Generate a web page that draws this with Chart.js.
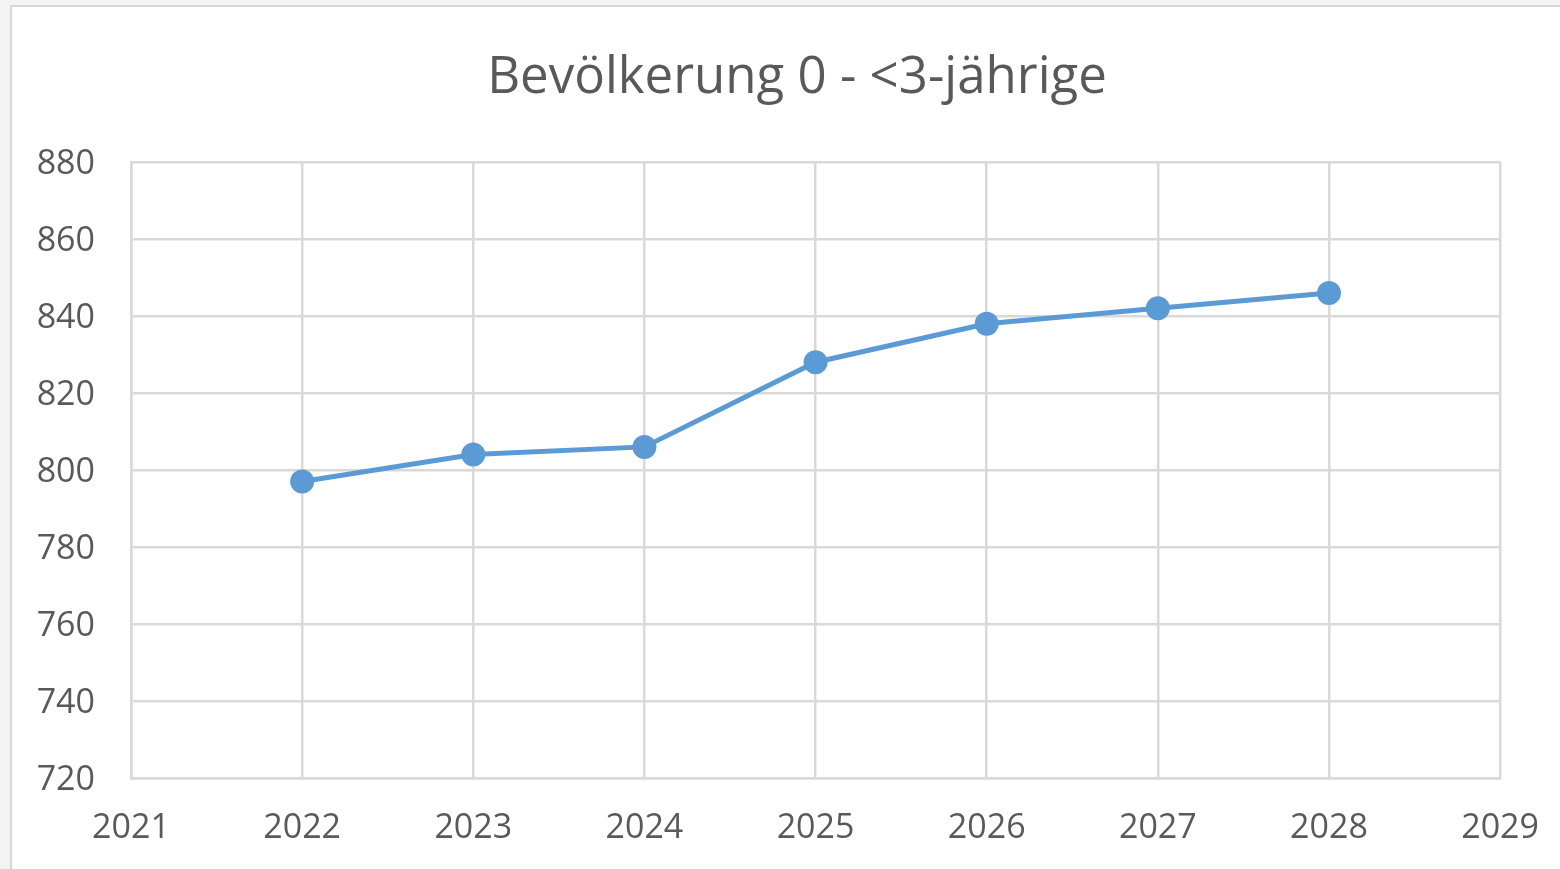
<!DOCTYPE html>
<html>
<head>
<meta charset="utf-8">
<script src="https://cdn.jsdelivr.net/npm/chart.js@4/dist/chart.umd.min.js"></script>
<style>
  html, body { margin: 0; padding: 0; background: #f3f3f3; width: 1560px; height: 869px; overflow: hidden; }
  #frame { position: absolute; left: 10px; top: 5px; width: 1600px; height: 900px; background: #ffffff; border: 2px solid #d6d6d6; box-sizing: border-box; }
  #wrap { position: absolute; left: 0; top: 0; width: 1560px; height: 869px; overflow: hidden; }
  canvas { display: block; }
</style>
</head>
<body>
<div id="frame"></div>
<div id="wrap"><canvas id="c" width="1569" height="869"></canvas></div>
<script>
const chartTitle = 'Bevölkerung 0 - <3-jährige';
const years = [2022, 2023, 2024, 2025, 2026, 2027, 2028];
const population = [797, 804, 806, 828, 838, 842, 846];
const xTickRange = [2021, 2029];
const yTickRange = [720, 880];
const yStep = 20;

const points = years.map((yr, i) => ({ x: yr, y: population[i] }));
const gridColor = '#d9d9d9';
const textColor = '#595959';
const font = "'Open Sans', 'Liberation Sans', sans-serif";

new Chart(document.getElementById('c'), {
  type: 'line',
  data: {
    datasets: [{
      label: chartTitle,
      data: points,
      borderColor: '#5b9bd5',
      backgroundColor: '#5b9bd5',
      borderWidth: 5,
      pointRadius: 12,
      pointHoverRadius: 12,
      pointBorderWidth: 0,
      pointBackgroundColor: '#5b9bd5',
      tension: 0,
      fill: false
    }]
  },
  options: {
    responsive: false,
    animation: false,
    devicePixelRatio: 1,
    layout: { padding: { left: 25, right: 0, top: 0, bottom: 0 } },
    plugins: {
      legend: { display: false },
      tooltip: { enabled: false },
      title: {
        display: true,
        text: chartTitle,
        color: textColor,
        font: { family: font, size: 51, weight: 'normal', lineHeight: 1.2 },
        padding: { top: 48, bottom: 52.8 }
      }
    },
    scales: {
      x: {
        type: 'linear',
        min: xTickRange[0],
        max: xTickRange[1],
        afterFit: (s) => { s.height = 91; },
        ticks: {
          stepSize: 1,
          padding: 30,
          color: textColor,
          font: { family: font, size: 34 },
          callback: (v) => String(v),
          maxRotation: 0
        },
        grid: { color: gridColor, lineWidth: 2.5, drawTicks: false },
        border: { color: gridColor, width: 2.5 }
      },
      y: {
        min: yTickRange[0],
        max: yTickRange[1],
        afterFit: (s) => { s.width = 106; },
        ticks: {
          stepSize: yStep,
          padding: 36,
          labelOffset: 2,
          color: textColor,
          font: { family: font, size: 34 },
          callback: (v) => String(v)
        },
        grid: { color: gridColor, lineWidth: 2.5, drawTicks: false },
        border: { color: gridColor, width: 2.5 }
      }
    }
  }
});
</script>
</body>
</html>
